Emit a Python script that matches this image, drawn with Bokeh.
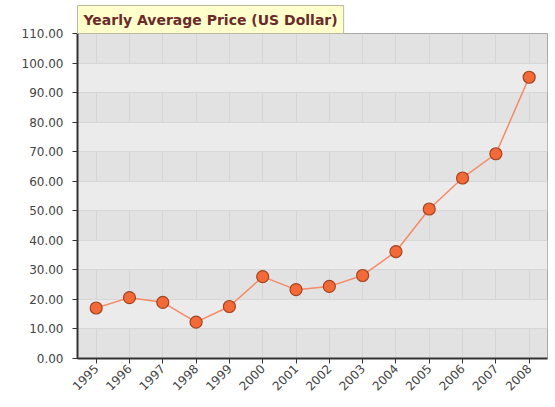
import math
from bokeh.plotting import figure
from bokeh.models import FixedTicker, NumeralTickFormatter, ColumnDataSource, Range1d
from bokeh.embed import file_html
from bokeh.resources import INLINE

years = [1995, 1996, 1997, 1998, 1999, 2000, 2001, 2002, 2003, 2004, 2005, 2006, 2007, 2008]
prices = [17.1, 20.6, 19.0, 12.3, 17.6, 27.7, 23.3, 24.4, 28.1, 36.2, 50.6, 61.1, 69.3, 95.2]
y_ticks = [0, 10, 20, 30, 40, 50, 60, 70, 80, 90, 100, 110]
title_text = "Yearly Average Price (US Dollar)"

src = ColumnDataSource(data=dict(year=years, price=prices))

p = figure(width=553, height=400, output_backend="svg", toolbar_location=None,
           x_range=Range1d(years[0] - 0.56, years[-1] + 0.55),
           y_range=Range1d(y_ticks[0], y_ticks[-1]),
           min_border_left=77, min_border_top=33, min_border_right=6, min_border_bottom=42)

p.background_fill_color = "#e2e2e2"
p.border_fill_color = "white"
p.outline_line_color = "#a8a8a8"
p.outline_line_width = 1

p.ygrid.ticker = FixedTicker(ticks=y_ticks)
p.ygrid.grid_line_color = "#d6d6d6"
p.ygrid.band_fill_color = "#ebebeb"
p.ygrid.band_fill_alpha = 1
p.xgrid.ticker = FixedTicker(ticks=years)
p.xgrid.grid_line_color = "#d6d6d6"

for ax in (p.xaxis, p.yaxis):
    ax.axis_line_color = "#333333"
    ax.axis_line_width = 2
    ax.major_tick_line_color = "#333333"
    ax.major_tick_out = 5
    ax.major_tick_in = 0
    ax.minor_tick_line_color = None
    ax.major_label_text_font = "DejaVu Sans"
    ax.major_label_text_font_size = "12px"
    ax.major_label_text_color = "#444444"

p.yaxis.ticker = FixedTicker(ticks=y_ticks)
p.yaxis.formatter = NumeralTickFormatter(format="0.00")
p.yaxis.major_label_standoff = 9
p.xaxis.ticker = FixedTicker(ticks=years)
p.xaxis.major_label_orientation = math.pi / 4
p.xaxis.major_label_standoff = 3

p.line("year", "price", source=src, line_color="#f48a66", line_width=1.5)
p.scatter("year", "price", source=src, size=12, fill_color="#f36a38",
          line_color="#a3431f", line_width=1.2)

p.title.text = title_text
p.title.align = "left"
p.title.text_font = "DejaVu Sans"
p.title.text_font_style = "bold"
p.title.text_font_size = "14px"
p.title.text_color = "#6b2a2a"
p.title.background_fill_color = "#ffffcc"
p.title.border_line_color = "#b8b8a0"
p.title.padding = 6
p.title.offset = 0
p.title.standoff = 0

open("out.html", "w").write(file_html(p, INLINE))
